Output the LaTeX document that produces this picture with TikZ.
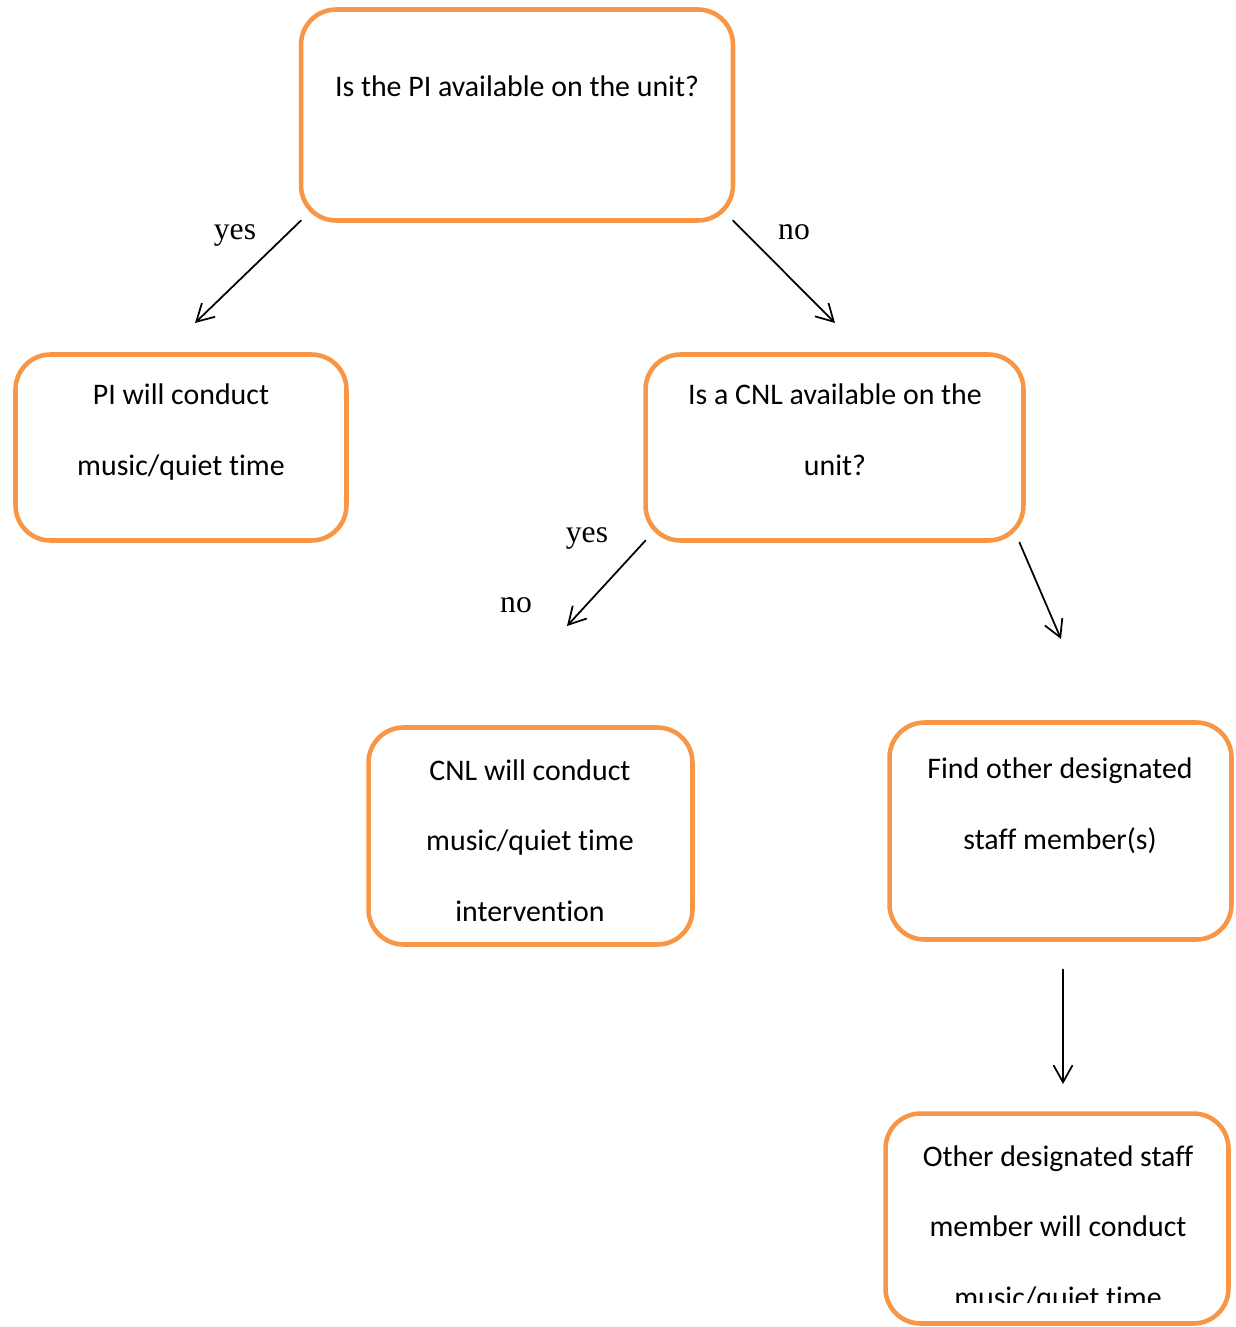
\documentclass[tikz,border=0pt]{standalone}
\usepackage{fontspec}
\setmainfont{Liberation Serif}
\newfontfamily\boxfont[Ligatures=NoCommon]{Carlito}
\usetikzlibrary{arrows.meta}

\begin{document}
\begin{tikzpicture}[x=0.02cm, y=-0.02cm, line cap=round, line join=round,
  box/.style={draw=boxorange, line width=2.6pt, rounded corners=0.7cm, outer sep=0pt, inner sep=0pt},
  boxtext/.style={font={\boxfont\fontsize{17}{40}\selectfont}, align=center, anchor=base},
  answer/.style={font={\fontsize{18}{20}\selectfont}, anchor=base},
  link/.style={-{Straight Barb[length=0.34cm,width=0.38cm]}, line width=1pt}]
  \definecolor{boxorange}{RGB}{247,150,70}
  \useasboundingbox (0,0) rectangle (1235,1327);

  \node[box, minimum width=8.64cm, minimum height=4.22cm] (piq) at (517,115) {};
  \node[box, minimum width=6.62cm, minimum height=3.72cm] (pi) at (181,447.5) {};
  \node[box, minimum width=7.56cm, minimum height=3.72cm] (cnlq) at (834.5,447.5) {};
  \node[box, minimum width=6.48cm, minimum height=4.34cm] (cnl) at (530.5,836) {};
  \node[box, minimum width=6.84cm, minimum height=4.34cm] (find) at (1060.5,831) {};
  \node[box, minimum width=6.86cm, minimum height=4.2cm] (other) at (1057,1218.5) {};

  % anchor=base sits on the last line
  \node[boxtext] (piqtext) at (517,97) {Is the PI available on the unit?};
  \node[boxtext] (pitext) at (181,475) {PI will conduct\\music/quiet time};
  \node[boxtext] (cnlqtext) at (835,475) {Is a CNL available on the\\unit?};
  \node[boxtext] (cnltext) at (530,921) {CNL will conduct\\music/quiet time\\intervention};
  \node[boxtext] (findtext) at (1060,849) {Find other designated\\staff member(s)};
  \begin{scope}
    \clip (885,1113) rectangle (1229,1302);
    \node[boxtext] (othertext) at (1058,1307) {Other designated staff\\member will conduct\\music/quiet time};
  \end{scope}

  \coordinate (piend) at (195,323);
  \coordinate (cnlqend) at (835,323);
  \coordinate (cnlend) at (567,626);
  \coordinate (findend) at (1061,639);
  \draw[link] (piq.south west) -- (piend);
  \draw[link] (piq.south east) -- (cnlqend);
  \draw[link] (cnlq.south west) -- (cnlend);
  \draw[link] ([shift={(-4,2)}]cnlq.south east) -- (findend);
  \draw[link] ([shift={(2.5,30)}]find.south) -- ([shift={(6,-29.5)}]other.north);

  \node[answer] (yesa) at (235,240) {yes};
  \node[answer] (noa) at (794,240) {no};
  \node[answer] (yesb) at (587,542) {yes};
  \node[answer] (nob) at (516,612) {no};
\end{tikzpicture}
\end{document}
